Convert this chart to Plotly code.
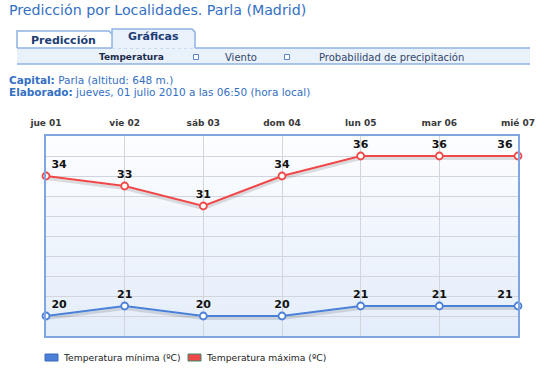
import plotly.graph_objects as go

days = ["jue 01", "vie 02", "sáb 03", "dom 04", "lun 05", "mar 06", "mié 07"]
t_min = [20, 21, 20, 20, 21, 21, 21]
t_max = [34, 33, 31, 34, 36, 36, 36]
series_names = ["Temperatura mínima (ºC)", "Temperatura máxima (ºC)"]
series_colors = ["#4a80d8", "#f04848"]

W, H = 550, 372
L, R, T, B = 46, 518, 136, 336


def px(x):
    return (x - L) / (R - L)


def py(y):
    return (B - y) / (B - T)


FONT = "DejaVu Sans"
fig = go.Figure()

n = len(days)
positions = []
for i in range(n):
    if i == 0:
        positions.append("top right")
    elif i == n - 1:
        positions.append("top left")
    else:
        positions.append("top center")

for vals, color, name in [(t_max, series_colors[1], series_names[1]),
                          (t_min, series_colors[0], series_names[0])]:
    # soft shadow under the line
    fig.add_trace(go.Scatter(
        x=days, y=[v - 0.25 for v in vals], mode="lines",
        line=dict(color="rgba(0,0,0,0.12)", width=3),
        hoverinfo="skip", showlegend=False, cliponaxis=False))
    fig.add_trace(go.Scatter(
        x=days, y=vals, mode="lines+markers+text", name=name,
        line=dict(color=color, width=2),
        marker=dict(size=7, color="white", line=dict(color=color, width=1.8)),
        text=[str(v) for v in vals], textposition=positions,
        textfont=dict(family=FONT, size=11, color="#111111", weight="bold"),
        showlegend=False, cliponaxis=False))

shapes = []
# gradient plot background
steps = 20
c0 = (252, 253, 255)
c1 = (228, 237, 250)
for k in range(steps):
    f = k / (steps - 1)
    c = tuple(round(c0[j] + (c1[j] - c0[j]) * f) for j in range(3))
    shapes.append(dict(type="rect", xref="x domain", yref="y domain",
                       x0=0, x1=1, y0=1 - (k + 1) / steps, y1=1 - k / steps,
                       fillcolor="rgb(%d,%d,%d)" % c, line=dict(width=0),
                       layer="below"))

# header: tabs and sub-bar
shapes.append(dict(type="rect", xref="paper", yref="paper",
                   x0=px(17), x1=px(530), y0=py(64), y1=py(48),
                   fillcolor="#e9f1fb", line=dict(width=0)))
shapes.append(dict(type="line", xref="paper", yref="paper",
                   x0=px(17), x1=px(530), y0=py(64), y1=py(64),
                   line=dict(color="#8fb2e2", width=1.5)))
shapes.append(dict(type="line", xref="paper", yref="paper",
                   x0=px(17), x1=px(112), y0=py(48), y1=py(48),
                   line=dict(color="#8fb2e2", width=1.5)))
shapes.append(dict(type="line", xref="paper", yref="paper",
                   x0=px(195), x1=px(530), y0=py(48), y1=py(48),
                   line=dict(color="#8fb2e2", width=1.5)))
shapes.append(dict(type="line", xref="paper", yref="paper",
                   x0=px(112), x1=px(195), y0=py(48), y1=py(48),
                   line=dict(color="#a9c3e8", width=1, dash="dot")))
# Predicción tab
shapes.append(dict(type="path", xref="paper", yref="paper",
                   path="M %f,%f L %f,%f L %f,%f L %f,%f" % (
                       px(17), py(48), px(17), py(31), px(109), py(31), px(112), py(34)),
                   line=dict(color="#8fb2e2", width=1.5)))
# Gráficas tab
shapes.append(dict(type="rect", xref="paper", yref="paper",
                   x0=px(112), x1=px(195), y0=py(48), y1=py(29),
                   fillcolor="#e9f1fb", line=dict(width=0)))
shapes.append(dict(type="path", xref="paper", yref="paper",
                   path="M %f,%f L %f,%f L %f,%f L %f,%f L %f,%f" % (
                       px(112), py(48), px(112), py(29), px(192), py(29),
                       px(195), py(32), px(195), py(48)),
                   line=dict(color="#8fb2e2", width=1.5)))
# small squares in sub-bar
for sx in [196, 287]:
    shapes.append(dict(type="rect", xref="paper", yref="paper",
                       x0=px(sx - 2.5), x1=px(sx + 2.5), y0=py(59.5), y1=py(54.5),
                       fillcolor="white", line=dict(color="#5a86c8", width=1)))

# legend swatches
shapes.append(dict(type="rect", xref="paper", yref="paper",
                   x0=px(45), x1=px(58), y0=py(361), y1=py(354),
                   fillcolor=series_colors[0], line=dict(color="#3a68b8", width=1)))
shapes.append(dict(type="rect", xref="paper", yref="paper",
                   x0=px(188), x1=px(201), y0=py(361), y1=py(354),
                   fillcolor=series_colors[1], line=dict(color="#3a8a6a", width=1)))

ann = []
blue = "#3470c4"
ann.append(dict(text="Predicción por Localidades. Parla (Madrid)", x=px(7), y=py(10),
                xanchor="left", yanchor="middle",
                font=dict(family=FONT, size=14.2, color=blue)))
ann.append(dict(text="<b>Predicción</b>", x=px(63), y=py(40), xanchor="center",
                yanchor="middle", font=dict(family=FONT, size=11, color="#1c3d75")))
ann.append(dict(text="<b>Gráficas</b>", x=px(153), y=py(37), xanchor="center",
                yanchor="middle", font=dict(family=FONT, size=11, color="#1c3d75")))
ann.append(dict(text="<b>Temperatura</b>", x=px(131), y=py(57), xanchor="center",
                yanchor="middle", font=dict(family=FONT, size=9, color="#1c2c4c")))
ann.append(dict(text="Viento", x=px(241), y=py(57), xanchor="center",
                yanchor="middle", font=dict(family=FONT, size=10, color="#33486a")))
ann.append(dict(text="Probabilidad de precipitación", x=px(391), y=py(57),
                xanchor="center", yanchor="middle",
                font=dict(family=FONT, size=10, color="#33486a")))
ann.append(dict(text="<b>Capital:</b> Parla (altitud: 648 m.)", x=px(7), y=py(80),
                xanchor="left", yanchor="middle",
                font=dict(family=FONT, size=10.5, color=blue)))
ann.append(dict(text="<b>Elaborado:</b> jueves, 01 julio 2010 a las 06:50 (hora local)",
                x=px(7), y=py(92), xanchor="left", yanchor="middle",
                font=dict(family=FONT, size=10.5, color=blue)))
ann.append(dict(text=series_names[0], x=px(61), y=py(357), xanchor="left",
                yanchor="middle", font=dict(family=FONT, size=9.2, color="#222222")))
ann.append(dict(text=series_names[1], x=px(204), y=py(357), xanchor="left",
                yanchor="middle", font=dict(family=FONT, size=9.2, color="#222222")))
for a in ann:
    a.update(xref="paper", yref="paper", showarrow=False)

fig.update_layout(
    width=W, height=H,
    margin=dict(l=L, r=W - R, t=T, b=H - B, pad=0),
    paper_bgcolor="white", plot_bgcolor="rgba(0,0,0,0)",
    shapes=shapes, annotations=ann, showlegend=False,
    xaxis=dict(type="category", categoryorder="array", categoryarray=days,
               range=[0, n - 1], side="top", showgrid=True,
               gridcolor="#d2d6dc", gridwidth=1,
               showline=True, mirror=True, linecolor="#7fa6e2", linewidth=2,
               ticks="", ticklabelstandoff=4,
               tickfont=dict(family=FONT, size=9, color="#3a3a3a", weight="bold"),
               fixedrange=True, zeroline=False),
    yaxis=dict(range=[18, 38], dtick=2, tick0=18, showgrid=True,
               gridcolor="#d2d6dc", gridwidth=1, showticklabels=False,
               showline=True, mirror=True, linecolor="#7fa6e2", linewidth=2,
               ticks="", zeroline=False, fixedrange=True),
)

fig.write_html("out.html", config={"displayModeBar": False},
               post_script="document.body.style.margin='0';document.body.style.overflow='hidden';")
